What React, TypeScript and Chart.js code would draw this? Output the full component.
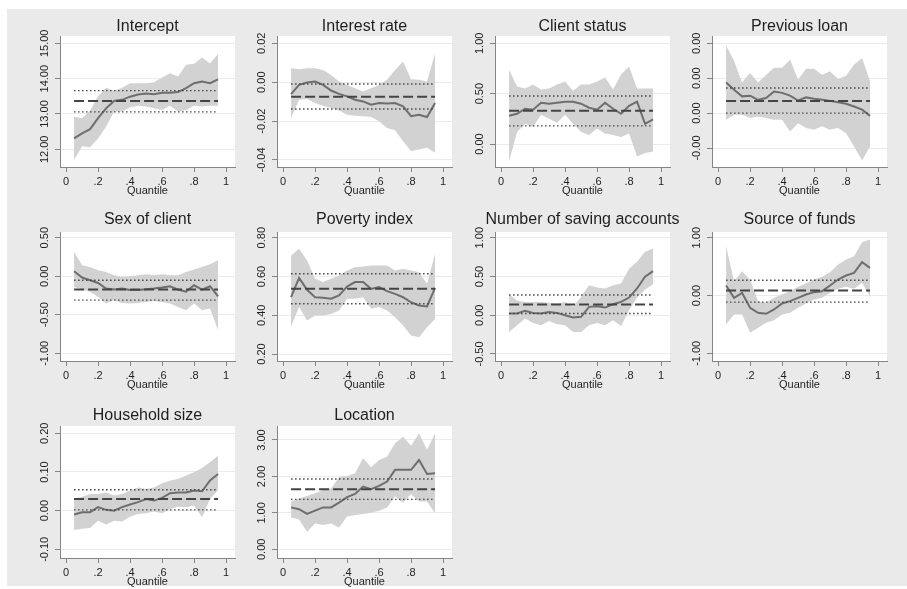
import React, { useEffect, useRef } from "react";
import { Chart, registerables } from "chart.js";

Chart.register(...registerables);

// ---------------- data ----------------
const QUANTILES = [0.05, 0.1, 0.15, 0.2, 0.25, 0.3, 0.35, 0.4, 0.45, 0.5, 0.55, 0.6, 0.65, 0.7, 0.75, 0.8, 0.85, 0.9, 0.95];
const X_TICKS = [0, 0.2, 0.4, 0.6, 0.8, 1];

// OLS arrays: [estimate, lower CI, upper CI]
const interceptCoef = [12.31, 12.45, 12.57, 12.88, 13.16, 13.37, 13.4, 13.49, 13.55, 13.58, 13.56, 13.6, 13.6, 13.62, 13.73, 13.87, 13.92, 13.87, 13.98];
const interceptUpper = [12.92, 12.88, 13.1, 13.5, 13.74, 13.66, 13.74, 13.87, 13.87, 13.87, 13.9, 14.03, 14.15, 14.06, 14.39, 14.42, 14.6, 14.43, 14.7];
const interceptLower = [11.7, 12.09, 12.06, 12.31, 12.64, 13.07, 13.07, 13.19, 13.23, 13.21, 13.16, 13.11, 13.23, 13.07, 13.11, 13.23, 13.21, 13.23, 13.23];
const interceptOls = [13.37, 13.06, 13.66];
const interceptTicks = [12, 13, 14, 15];

const rateCoef = [-0.0061, -0.0014, -0.0002, 0.0003, -0.0014, -0.0043, -0.006, -0.0073, -0.009, -0.0099, -0.0116, -0.0107, -0.011, -0.0107, -0.0124, -0.0175, -0.0167, -0.0179, -0.0107];
const rateUpper = [0.0071, 0.0066, 0.0071, 0.0071, 0.0063, 0.0037, 0.0003, -0.0014, -0.0031, -0.0048, -0.0031, -0.0014, 0.0012, 0.0063, 0.0106, 0.0015, 0.0012, 0.0003, 0.0148];
const rateLower = [-0.0184, -0.009, -0.0087, -0.0107, -0.0121, -0.0133, -0.0145, -0.0167, -0.0172, -0.0175, -0.0179, -0.0201, -0.0235, -0.0247, -0.0303, -0.0354, -0.0346, -0.0337, -0.0363];
const rateOls = [-0.0075, -0.0138, -0.0009];
const rateTicks = [-0.04, -0.02, 0, 0.02];

const statusCoef = [0.28, 0.3, 0.35, 0.34, 0.41, 0.4, 0.41, 0.42, 0.42, 0.4, 0.36, 0.34, 0.41, 0.35, 0.3, 0.38, 0.42, 0.2, 0.245];
const statusUpper = [0.735, 0.57, 0.55, 0.59, 0.54, 0.55, 0.59, 0.62, 0.53, 0.59, 0.59, 0.62, 0.66, 0.54, 0.69, 0.77, 0.55, 0.55, 0.55];
const statusLower = [-0.175, 0.12, 0.2, 0.17, 0.29, 0.25, 0.21, 0.29, 0.2, 0.12, 0.09, 0.155, 0.105, 0.09, 0.07, 0.105, -0.125, -0.09, -0.075];
const statusOls = [0.33, 0.18, 0.477];
const statusTicks = [0, 0.5, 1];

const loanCoef = [0.00088, 0.00067, 0.00048, 0.0005, 0.00038, 0.00043, 0.00062, 0.00058, 0.0005, 0.00036, 0.00045, 0.00041, 0.00038, 0.00035, 0.00031, 0.00027, 0.00019, 0.0001, -0.00008];
const loanUpper = [0.00194, 0.00149, 0.00088, 0.00115, 0.00088, 0.0011, 0.0013, 0.0013, 0.00153, 0.00096, 0.00127, 0.00127, 0.0011, 0.0012, 0.00098, 0.00107, 0.00139, 0.00158, 0.00091];
const loanLower = [-0.00019, -0.00005, -0.00005, -0.00014, -0.0001, -0.00014, -0.00019, -0.00019, -0.00053, -0.00029, -0.00043, -0.00048, -0.00038, -0.00048, -0.00043, -0.00058, -0.00096, -0.00136, -0.00096];
const loanOls = [0.00035, 0.0, 0.00072];
const loanTicks = [-0.001, 0, 0.001, 0.002];

const sexCoef = [0.065, -0.017, -0.052, -0.087, -0.16, -0.173, -0.16, -0.18, -0.18, -0.17, -0.16, -0.147, -0.13, -0.173, -0.2, -0.117, -0.173, -0.13, -0.26];
const sexUpper = [0.316, 0.143, 0.12, 0.078, 0.056, 0.013, -0.009, 0.0, 0.013, 0.026, 0.013, 0.026, 0.013, 0.013, 0.056, 0.087, 0.12, 0.156, 0.208];
const sexLower = [-0.139, -0.173, -0.2, -0.27, -0.355, -0.31, -0.346, -0.355, -0.346, -0.333, -0.32, -0.333, -0.355, -0.4, -0.44, -0.355, -0.44, -0.42, -0.7];
const sexOls = [-0.173, -0.31, -0.052];
const sexTicks = [-1, -0.5, 0, 0.5];

const povertyCoef = [0.493, 0.593, 0.531, 0.493, 0.49, 0.485, 0.502, 0.548, 0.571, 0.571, 0.536, 0.545, 0.524, 0.51, 0.493, 0.467, 0.45, 0.445, 0.541];
const povertyUpper = [0.708, 0.743, 0.683, 0.588, 0.571, 0.588, 0.605, 0.631, 0.648, 0.652, 0.657, 0.657, 0.657, 0.631, 0.64, 0.631, 0.622, 0.562, 0.717];
const povertyLower = [0.342, 0.442, 0.373, 0.399, 0.399, 0.407, 0.424, 0.485, 0.485, 0.493, 0.433, 0.442, 0.424, 0.39, 0.347, 0.295, 0.287, 0.338, 0.381];
const povertyOls = [0.536, 0.459, 0.614];
const povertyTicks = [0.2, 0.4, 0.6, 0.8];

const savingCoef = [0.022, 0.022, 0.056, 0.03, 0.022, 0.043, 0.03, 0.0, -0.03, -0.02, 0.108, 0.116, 0.099, 0.142, 0.172, 0.228, 0.345, 0.496, 0.569];
const savingUpper = [0.27, 0.19, 0.17, 0.17, 0.17, 0.16, 0.15, 0.17, 0.108, 0.237, 0.388, 0.358, 0.345, 0.388, 0.41, 0.6, 0.69, 0.82, 0.86];
const savingLower = [-0.215, -0.13, -0.043, -0.1, -0.13, -0.073, -0.116, -0.13, -0.215, -0.215, -0.13, -0.1, -0.13, -0.065, -0.14, 0.065, 0.23, 0.33, 0.4];
const savingOls = [0.138, 0.022, 0.26];
const savingTicks = [-0.5, 0, 0.5, 1];

const fundsCoef = [0.173, -0.04, 0.046, -0.213, -0.3, -0.317, -0.242, -0.138, -0.098, -0.04, 0.017, 0.058, 0.075, 0.173, 0.277, 0.346, 0.392, 0.576, 0.478];
const fundsUpper = [0.853, 0.248, 0.42, 0.277, -0.098, -0.127, -0.04, 0.017, 0.075, 0.15, 0.207, 0.277, 0.323, 0.403, 0.536, 0.622, 0.68, 0.922, 0.968];
const fundsLower = [-0.501, -0.328, -0.328, -0.645, -0.559, -0.473, -0.426, -0.328, -0.3, -0.213, -0.138, -0.069, -0.04, 0.046, 0.115, 0.15, 0.115, 0.219, -0.012];
const fundsOls = [0.086, -0.115, 0.265];
const fundsTicks = [-1, 0, 1];

const householdCoef = [-0.01, -0.004, -0.004, 0.009, 0.002, 0.0, 0.009, 0.016, 0.022, 0.03, 0.026, 0.033, 0.045, 0.047, 0.047, 0.052, 0.05, 0.078, 0.095];
const householdUpper = [0.03, 0.036, 0.043, 0.043, 0.047, 0.039, 0.043, 0.052, 0.06, 0.056, 0.06, 0.071, 0.078, 0.082, 0.091, 0.099, 0.11, 0.125, 0.142];
const householdLower = [-0.05, -0.047, -0.045, -0.026, -0.036, -0.026, -0.028, -0.016, -0.009, -0.007, -0.002, -0.007, 0.004, 0.01, 0.009, 0.013, -0.017, 0.03, 0.053];
const householdOls = [0.03, 0.002, 0.054];
const householdTicks = [-0.1, 0, 0.1, 0.2];

const locationCoef = [1.15, 1.1, 0.97, 1.06, 1.15, 1.15, 1.28, 1.43, 1.52, 1.72, 1.65, 1.74, 1.86, 2.18, 2.18, 2.18, 2.45, 2.07, 2.09];
const locationUpper = [1.31, 1.4, 1.46, 1.54, 1.63, 1.67, 1.98, 2.01, 2.09, 2.5, 2.25, 2.45, 2.54, 2.91, 3.09, 2.84, 3.18, 2.73, 3.18];
const locationLower = [0.87, 0.82, 0.48, 0.71, 0.67, 0.71, 0.6, 0.9, 0.94, 0.97, 1.0, 1.06, 1.15, 1.45, 1.28, 1.52, 1.31, 1.31, 0.99];
const locationOls = [1.65, 1.37, 1.93];
const locationTicks = [0, 1, 2, 3];

// ---------------- panels ----------------
type Spec = {
  title: string;
  coef: number[];
  upper: number[];
  lower: number[];
  ols: number[];
  ticks: number[];
  yMin: number;
  yMax: number;
};

const PANELS: Spec[] = [
  { title: "Intercept", coef: interceptCoef, upper: interceptUpper, lower: interceptLower, ols: interceptOls, ticks: interceptTicks, yMin: 11.5, yMax: 15.207 },
  { title: "Interest rate", coef: rateCoef, upper: rateUpper, lower: rateLower, ols: rateOls, ticks: rateTicks, yMin: -0.0436, yMax: 0.02374 },
  { title: "Client status", coef: statusCoef, upper: statusUpper, lower: statusLower, ols: statusOls, ticks: statusTicks, yMin: -0.2284, yMax: 1.0725 },
  { title: "Previous loan", coef: loanCoef, upper: loanUpper, lower: loanLower, ols: loanOls, ticks: loanTicks, yMin: -0.001544, yMax: 0.002209 },
  { title: "Sex of client", coef: sexCoef, upper: sexUpper, lower: sexLower, ols: sexOls, ticks: sexTicks, yMin: -1.1, yMax: 0.574 },
  { title: "Poverty index", coef: povertyCoef, upper: povertyUpper, lower: povertyLower, ols: povertyOls, ticks: povertyTicks, yMin: 0.1639, yMax: 0.8294 },
  { title: "Number of saving accounts", coef: savingCoef, upper: savingUpper, lower: savingLower, ols: savingOls, ticks: savingTicks, yMin: -0.5903, yMax: 1.0735 },
  { title: "Source of funds", coef: fundsCoef, upper: fundsUpper, lower: fundsLower, ols: fundsOls, ticks: fundsTicks, yMin: -1.133, yMax: 1.0986 },
  { title: "Household size", coef: householdCoef, upper: householdUpper, lower: householdLower, ols: householdOls, ticks: householdTicks, yMin: -0.1225, yMax: 0.2189 },
  { title: "Location", coef: locationCoef, upper: locationUpper, lower: locationLower, ols: locationOls, ticks: locationTicks, yMin: -0.2388, yMax: 3.384 },
];

// ---------------- layout & style ----------------
const FONT_FAMILY = "'Liberation Sans', Arial, Helvetica, sans-serif";
const TEXT = "#1f1f1f";
const AXIS = "#858585";
const GRID = "#ebebeb";
const BAND = "#d2d2d2";
const QR_LINE = "#6e6e6e";
const OLS_LINE = "#444444";
const PAGE_BG = "#eaeaea";

const COL_LEFT = [60, 277, 495, 712];
const ROWS = [
  { titleY: 27, top: 36, bottom: 167 },
  { titleY: 220, top: 232, bottom: 361 },
  { titleY: 416, top: 426, bottom: 558 },
];
const Y_AXIS_W = 58;
const PLOT_W = 175;
const X_AXIS_H = 31;
const TICK_LEN = 5;
const Y_LABEL_OFFSET = 15;
const X_MIN = -0.038;
const X_MAX = 1.056;
const Q_START = 0.05;
const Q_END = 0.95;

Chart.defaults.font.family = FONT_FAMILY;
Chart.defaults.color = TEXT;

const fmtY = (v: number) => Number(v).toFixed(2);
const fmtX = (v: number) => (v === 0 ? "0" : v === 1 ? "1" : "." + Math.round(v * 10));

function measure(text: string, size: number) {
  const ctx = document.createElement("canvas").getContext("2d")!;
  ctx.font = `${size}px ${FONT_FAMILY}`;
  return ctx.measureText(text).width;
}

const plotBg = {
  id: "plotBg",
  beforeDraw(chart: any) {
    const { ctx, chartArea: a } = chart;
    ctx.save();
    ctx.fillStyle = "#ffffff";
    ctx.fillRect(a.left, a.top, a.right - a.left, a.bottom - a.top);
    ctx.restore();
  },
};

function Panel({ spec, col, row }: { spec: Spec; col: number; row: number }) {
  const ref = useRef<HTMLCanvasElement>(null);
  const r = ROWS[row];
  const canvasTop = r.titleY - 18;
  const canvasLeft = COL_LEFT[col] - Y_AXIS_W;
  const width = Y_AXIS_W * 2 + PLOT_W;
  const height = r.bottom + X_AXIS_H - canvasTop;
  const titlePadBottom = r.top - canvasTop - 26;

  useEffect(() => {
    const pts = (ys: number[]) => QUANTILES.map((q, i) => ({ x: q, y: ys[i] }));
    const span = (v: number) => [
      { x: Q_START, y: v },
      { x: Q_END, y: v },
    ];
    const widest = Math.max(...spec.ticks.map((t) => measure(fmtY(t), 11)));
    const yPad = Y_LABEL_OFFSET - TICK_LEN - widest / 2;

    const chart = new Chart(ref.current!, {
      type: "line",
      data: {
        datasets: [
          { data: pts(spec.upper), fill: "+1", backgroundColor: BAND, borderColor: "transparent", borderWidth: 0, pointRadius: 0, order: 10 },
          { data: pts(spec.lower), fill: false, borderColor: "transparent", borderWidth: 0, pointRadius: 0, order: 11 },
          { data: pts(spec.coef), fill: false, borderColor: QR_LINE, borderWidth: 2, pointRadius: 0, order: 3 },
          { data: span(spec.ols[0]), fill: false, borderColor: OLS_LINE, borderWidth: 2, borderDash: [10, 4], pointRadius: 0, order: 1 },
          { data: span(spec.ols[1]), fill: false, borderColor: OLS_LINE, borderWidth: 1.4, borderDash: [1.5, 2.5], pointRadius: 0, order: 2 },
          { data: span(spec.ols[2]), fill: false, borderColor: OLS_LINE, borderWidth: 1.4, borderDash: [1.5, 2.5], pointRadius: 0, order: 2 },
        ],
      } as any,
      options: {
        animation: false,
        responsive: false,
        events: [],
        layout: { padding: 0 },
        elements: { line: { tension: 0 } },
        plugins: {
          legend: { display: false },
          tooltip: { enabled: false },
          title: {
            display: true,
            text: spec.title,
            color: TEXT,
            font: { size: 16, lineHeight: 1, weight: "normal" },
            padding: { top: 10, bottom: titlePadBottom },
          },
        },
        scales: {
          x: {
            type: "linear",
            min: X_MIN,
            max: X_MAX,
            bounds: "data",
            afterBuildTicks: (s: any) => {
              s.ticks = X_TICKS.map((v) => ({ value: v }));
            },
            afterFit: (s: any) => {
              s.height = X_AXIS_H;
            },
            ticks: { callback: (v: any) => fmtX(Number(v)), font: { size: 11 }, color: TEXT, padding: 3, maxRotation: 0, autoSkip: false },
            grid: { drawOnChartArea: false, drawTicks: true, tickLength: TICK_LEN, color: AXIS, tickColor: AXIS },
            border: { display: true, color: AXIS, width: 1 },
            title: { display: true, text: "Quantile", color: TEXT, font: { size: 11 }, padding: { top: 0, bottom: 0 } },
          },
          y: {
            type: "linear",
            position: "left",
            min: spec.yMin,
            max: spec.yMax,
            bounds: "data",
            afterBuildTicks: (s: any) => {
              s.ticks = spec.ticks.map((v) => ({ value: v }));
            },
            afterFit: (s: any) => {
              s.width = Y_AXIS_W;
            },
            ticks: {
              callback: (v: any) => fmtY(Number(v)),
              font: { size: 11 },
              color: TEXT,
              minRotation: 90,
              maxRotation: 90,
              crossAlign: "center",
              padding: yPad,
              autoSkip: false,
            },
            grid: { color: GRID, tickColor: AXIS, tickLength: TICK_LEN, drawTicks: true },
            border: { display: true, color: AXIS, width: 1 },
          },
          yr: {
            type: "linear",
            position: "right",
            display: true,
            afterFit: (s: any) => {
              s.width = Y_AXIS_W;
            },
            ticks: { display: false },
            grid: { display: false },
            border: { display: false },
          },
        },
      } as any,
      plugins: [plotBg],
    });
    return () => chart.destroy();
  }, []);

  return (
    <canvas
      ref={ref}
      width={width}
      height={height}
      style={{ position: "absolute", left: canvasLeft, top: canvasTop, width, height }}
    />
  );
}

export default function App() {
  return (
    <div style={{ position: "absolute", left: 0, top: 0, width: 907, height: 589, background: "#ffffff", overflow: "hidden" }}>
      <div style={{ position: "absolute", left: 7, top: 9, width: 900, height: 577, background: PAGE_BG }} />
      {PANELS.map((p, i) => (
        <Panel key={i} spec={p} col={i % 4} row={Math.floor(i / 4)} />
      ))}
    </div>
  );
}
